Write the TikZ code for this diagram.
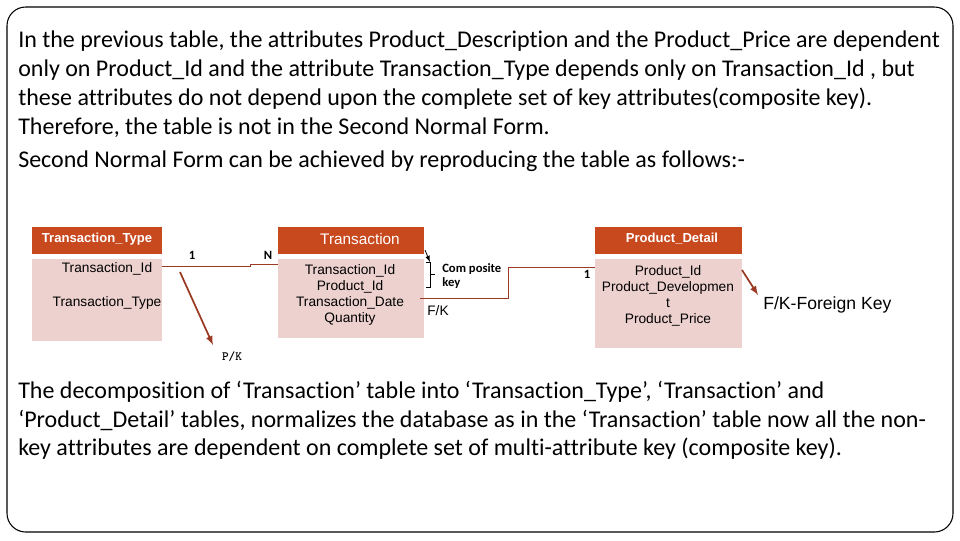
\documentclass[tikz,border=0pt]{standalone}
\usepackage{fontspec}
\setmainfont{Carlito}[Ligatures=NoCommon]
\newfontfamily\arialf{Liberation Sans}
\begin{document}
\begin{tikzpicture}[x=0.75pt,y=-0.75pt,
  body/.style={anchor=west,inner sep=0pt,font=\fontsize{18}{21}\selectfont},
  tt/.style={font=\arialf\fontsize{10.3}{12}\selectfont,align=center,inner sep=0pt},
  th/.style={font=\arialf\bfseries\fontsize{9.8}{12}\selectfont,text=white,inner sep=0pt},
  conn/.style={draw=linec,line width=0.7pt},
  small/.style={font=\bfseries\fontsize{9.5}{11}\selectfont,inner sep=0pt}]
\definecolor{hdrc}{HTML}{C9491F}
\definecolor{bodyc}{HTML}{EDD1CE}
\definecolor{linec}{HTML}{9A3A22}
\useasboundingbox (0,0) rectangle (960,540);
\draw[rounded corners=14pt,line width=0.8pt] (7,7) rectangle (953,532);
\node[body] (l1) at (18,41) {In the previous table, the attributes Product\_Description and the Product\_Price are dependent};
\node[body] (l2) at (18,70) {only on Product\_Id and the attribute Transaction\_Type depends only on Transaction\_Id , but};
\node[body] (l3) at (18,99) {these attributes do not depend upon the complete set of key attributes(composite key).};
\node[body] (l4) at (18,128) {Therefore, the table is not in the Second Normal Form.};
\node[body] (l5) at (18,161) {Second Normal Form can be achieved by reproducing the table as follows:-};
% tables
\fill[hdrc] (32,227) rectangle (162,254);
\fill[bodyc] (32,259) rectangle (162,341);
\node[th] (h1) at (97,239) {Transaction\_Type};
\node[tt] (a1) at (107,269) {Transaction\_Id};
\node[tt] (a2) at (107,303) {Transaction\_Type};
\fill[hdrc] (278,227) rectangle (424,254);
\fill[bodyc] (278,259) rectangle (424,338);
\node[th,font=\arialf\fontsize{11.5}{13}\selectfont] (h2) at (360,239) {Transaction};
\node[tt] (b1) at (350,295) {Transaction\_Id\\Product\_Id\\Transaction\_Date\\Quantity};
\fill[hdrc] (595,227) rectangle (742,254);
\fill[bodyc] (595,259) rectangle (742,348);
\node[th] (h3) at (672,239) {Product\_Detail};
\node[tt] (c1) at (668,296) {Product\_Id\\Product\_Developmen\\t\\Product\_Price};
% connectors
\coordinate (p1) at (162,266); \coordinate (p2) at (278,264);
\draw[conn] (p1) -- (250,266) -- (250,264) -- (p2);
\node[small] (n1) at (192,255) {1};
\node[small] (nN) at (268,255) {N};
\coordinate (k1) at (180,272); \coordinate (k2) at (213,345);
\draw[conn,line width=1.3pt,-latex] (k1) -- (k2);
\node[small,font=\ttfamily\bfseries\fontsize{9.5}{11}\selectfont] (pk) at (232,357) {P/K};
\coordinate (f1) at (420,298); \coordinate (f2) at (595,267);
\draw[conn] (f1) -- (508,298) -- (508,267) -- (f2);
\node[small] (one2) at (587,274) {1};
\node[tt] (fk) at (438,311) {F/K};
\draw[line width=0.6pt,-latex] (425,250) -- (430,262);
\draw[line width=0.4pt] (426,262) -- (430,262) -- (430,287) -- (426,287) (430,274) -- (435,274);
\node[small,anchor=west,align=left] (ck) at (442,276) {Com posite\\key};
\coordinate (g1) at (742,270); \coordinate (g2) at (758,295);
\draw[conn,line width=1.3pt,-latex] (g1) -- (g2);
\node[anchor=west,inner sep=0pt,font=\arialf\fontsize{13.2}{15}\selectfont] (fkl) at (763,305) {F/K-Foreign Key};
\node[body] (m1) at (18,392) {The decomposition of ‘Transaction’ table into ‘Transaction\_Type’, ‘Transaction’ and};
\node[body] (m2) at (18,420) {‘Product\_Detail’ tables, normalizes the database as in the ‘Transaction’ table now all the non-};
\node[body] (m3) at (18,449) {key attributes are dependent on complete set of multi-attribute key (composite key).};
\end{tikzpicture}
\end{document}
